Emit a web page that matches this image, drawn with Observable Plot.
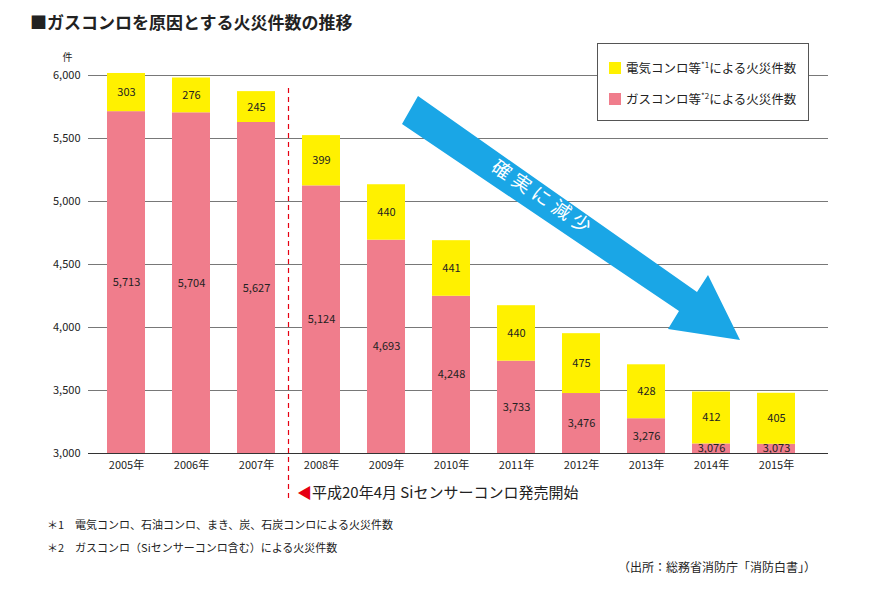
<!DOCTYPE html>
<html><head><meta charset="utf-8">
<script src="https://cdn.jsdelivr.net/npm/d3@7"></script>
<script src="https://cdn.jsdelivr.net/npm/@observablehq/plot@0.6"></script>
<style>
body{margin:0;background:#fff;font-family:"Noto Sans CJK JP",sans-serif;}
#wrap{position:relative;width:891px;height:593px;}
.t{position:absolute;white-space:nowrap;color:#222;}
</style></head><body>
<div id="wrap">
<div class="t" style="left:30px;top:9px;font-size:17px;font-weight:bold;">■ガスコンロを原因とする火災件数の推移</div>
<div id="chart" style="position:absolute;left:0;top:0;"></div>
<div class="t" style="left:597px;top:43px;width:210px;height:76px;border:1px solid #555;background:#fff;font-size:12.5px;">
<div style="position:absolute;left:11px;top:14px;"><span style="display:inline-block;width:12px;height:12px;background:#fff100;vertical-align:-1px;margin-right:5px;"></span>電気コンロ等<sup style="font-size:8px">*1</sup>による火災件数</div>
<div style="position:absolute;left:11px;top:45px;"><span style="display:inline-block;width:12px;height:12px;background:#f07d8c;vertical-align:-1px;margin-right:5px;"></span>ガスコンロ等<sup style="font-size:8px">*2</sup>による火災件数</div>
</div>
<svg style="position:absolute;left:0;top:0" width="891" height="593">
<polygon points="402,124 418,96 697,292 708,275 740,340 668,329 679,311" fill="#1aa6e6"/>
<text x="0" y="0" transform="translate(490,170) rotate(34)" fill="#fff" font-size="19" font-family="Noto Sans CJK JP" letter-spacing="5">確実に減少</text>
</svg>
<div class="t" style="left:297px;top:481px;font-size:15px;"><span style="color:#e60012">◀</span>平成20年4月 Siセンサーコンロ発売開始</div>
<div class="t" style="left:47px;top:516px;font-size:11px;">＊1　電気コンロ、石油コンロ、まき、炭、石炭コンロによる火災件数</div>
<div class="t" style="left:47px;top:539px;font-size:11px;">＊2　ガスコンロ（Siセンサーコンロ含む）による火災件数</div>
<div class="t" style="left:618px;top:558px;font-size:12px;">（出所：総務省消防庁「消防白書」）</div>
</div>
<script>
const years=["2005年","2006年","2007年","2008年","2009年","2010年","2011年","2012年","2013年","2014年","2015年"];
const gas=[5713,5704,5627,5124,4693,4248,3733,3476,3276,3076,3073];
const elec=[303,276,245,399,440,441,440,475,428,412,405];
const yTicks=[3000,3500,4000,4500,5000,5500,6000];
const base=3000;
const data=years.map((y,i)=>({year:y,gas:gas[i],elec:elec[i],total:gas[i]+elec[i]}));
const fmt=d3.format(",");
const plot=Plot.plot({
  width:891,height:480,marginTop:75,marginBottom:27,marginLeft:88,marginRight:63,
  style:{fontFamily:"Noto Sans CJK JP",fontSize:"11px",color:"#222",overflow:"visible"},
  x:{domain:years,range:[95,806],paddingInner:0.42,paddingOuter:0.1,label:null,tickSize:0,tickPadding:8},
  y:{domain:[3000,6000],ticks:yTicks,tickFormat:fmt,label:null,tickSize:0,tickPadding:8},
  marks:[
    Plot.gridY(yTicks,{stroke:"#555",strokeOpacity:1,strokeWidth:0.8}),
    Plot.rectY(data,{x:"year",y1:()=>base,y2:"gas",fill:"#f07d8c"}),
    Plot.rectY(data,{x:"year",y1:"gas",y2:"total",fill:"#fff100"}),
    Plot.text(data,{x:"year",y:d=>(base+d.gas)/2,text:d=>fmt(d.gas),fontSize:11,fill:"#222"}),
    Plot.text(data,{x:"year",y:d=>(d.gas+d.total)/2,text:d=>fmt(d.elec),fontSize:11,fill:"#222"}),
    Plot.ruleY([3000],{stroke:"#333"}),
    Plot.text(["件"],{frameAnchor:"top-left",dx:-26,dy:-22,fontSize:10})
  ]
});
document.getElementById("chart").appendChild(plot);
const xs=plot.scale("x");
const xm=(xs.apply("2007年")+xs.bandwidth+xs.apply("2008年"))/2;
const svg=d3.select(plot);
svg.append("line").attr("x1",xm).attr("x2",xm).attr("y1",88).attr("y2",500)
  .attr("stroke","#e60012").attr("stroke-dasharray","5,4").attr("stroke-width",1.2);
</script>
</body></html>
